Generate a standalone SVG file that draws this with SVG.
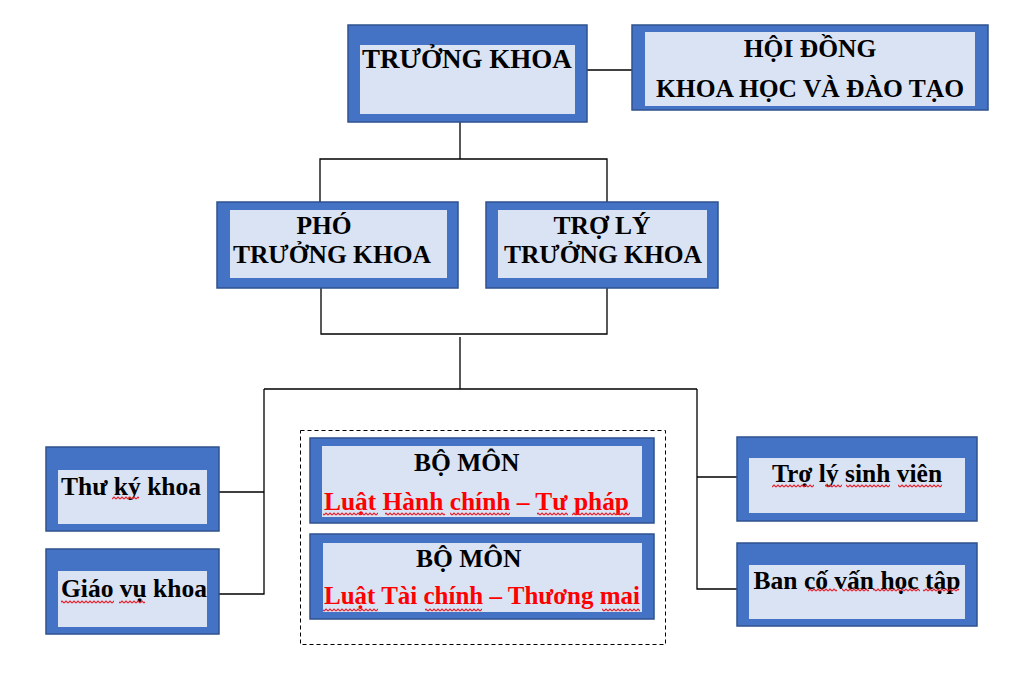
<svg xmlns="http://www.w3.org/2000/svg" width="1028" height="677" viewBox="0 0 1028 677">
<defs>
<pattern id="sq" width="4" height="4" patternUnits="userSpaceOnUse">
<path d="M0 3L2 1L4 3" fill="none" stroke="#E8202A" stroke-width="1.1"/>
</pattern>
</defs>
<style>
.outer{fill:#4472C4;stroke:#2F528F;stroke-width:1.5}
.inner{fill:#DAE3F3}
.t{font-family:"Liberation Serif","Times New Roman",serif;font-weight:bold;font-size:25.5px;fill:#000}
.big{font-size:27px}
.r{fill:#FF0000}
.c{text-anchor:middle}
.ln{stroke:#000;stroke-width:1.3;fill:none}
.sq{fill:url(#sq)}
</style>
<rect width="1028" height="677" fill="#fff"/>
<g id="connectors">
<path class="ln" d="M587 70H632"/>
<path class="ln" d="M460 122V159M320 202V159H607V202"/>
<path class="ln" d="M321 288V334H607V288"/>
<path class="ln" d="M460 337V389M264 389H697"/>
<path class="ln" d="M264 389V594H219M264 492H219"/>
<path class="ln" d="M697 389V589H737M697 477H737"/>
<rect x="300.5" y="430.5" width="365" height="214" fill="none" stroke="#000" stroke-width="1" stroke-dasharray="4,3"/>
</g>
<g id="truong-khoa">
<rect class="outer" x="348" y="25" width="239" height="97"/>
<rect class="inner" x="360" y="45" width="215" height="69"/>
<text class="t big c" x="467" y="68">TRƯỞNG KHOA</text>
</g>
<g id="hoi-dong">
<rect class="outer" x="632" y="25" width="356" height="85"/>
<rect class="inner" x="645" y="32" width="330" height="74"/>
<text class="t c" x="810" y="57">HỘI ĐỒNG</text>
<text class="t c" x="810" y="97">KHOA HỌC VÀ ĐÀO TẠO</text>
</g>
<g id="pho-truong-khoa">
<rect class="outer" x="217" y="202" width="241" height="86"/>
<rect class="inner" x="230" y="210" width="217" height="68"/>
<text class="t c" x="324" y="234">PHÓ</text>
<text class="t c" x="332" y="263">TRƯỞNG KHOA</text>
</g>
<g id="tro-ly-truong-khoa">
<rect class="outer" x="486" y="202" width="232" height="86"/>
<rect class="inner" x="498" y="210" width="209" height="68"/>
<text class="t c" x="602" y="234">TRỢ LÝ</text>
<text class="t c" x="603" y="263">TRƯỞNG KHOA</text>
</g>
<g id="thu-ky-khoa">
<rect class="outer" x="46" y="447" width="173" height="84"/>
<rect class="inner" x="58" y="470" width="149" height="54"/>
<text class="t" x="61" y="495">Thư ký khoa</text>
<rect class="sq" x="112" y="496" width="27" height="4"/>
</g>
<g id="giao-vu-khoa">
<rect class="outer" x="46" y="549" width="173" height="85"/>
<rect class="inner" x="58" y="571" width="149" height="56"/>
<text class="t" x="61" y="597">Giáo vụ khoa</text>
<rect class="sq" x="61" y="600" width="53" height="4"/>
<rect class="sq" x="119" y="600" width="26" height="4"/>
</g>
<g id="bo-mon-1">
<rect class="outer" x="310" y="438" width="344" height="85"/>
<rect class="inner" x="322" y="446" width="320" height="71"/>
<text class="t" x="414" y="471">BỘ MÔN</text>
<text class="t r" x="324" y="510" textLength="305" lengthAdjust="spacingAndGlyphs">Luật Hành chính – Tư pháp</text>
<rect class="sq" x="323" y="512" width="55" height="4"/>
<rect class="sq" x="385" y="512" width="60" height="4"/>
<rect class="sq" x="450" y="512" width="60" height="4"/>
<rect class="sq" x="537" y="512" width="31" height="4"/>
<rect class="sq" x="572" y="512" width="58" height="4"/>
</g>
<g id="bo-mon-2">
<rect class="outer" x="310" y="534" width="344" height="85"/>
<rect class="inner" x="323" y="543" width="319" height="69"/>
<text class="t" x="416" y="567">BỘ MÔN</text>
<text class="t r" x="324" y="604" textLength="316" lengthAdjust="spacingAndGlyphs">Luật Tài chính – Thương mai</text>
<rect class="sq" x="323" y="608" width="55" height="4"/>
<rect class="sq" x="425" y="608" width="57" height="4"/>
<rect class="sq" x="602" y="608" width="38" height="4"/>
</g>
<g id="tro-ly-sinh-vien">
<rect class="outer" x="737" y="437" width="240" height="84"/>
<rect class="inner" x="749" y="458" width="216" height="55"/>
<text class="t c" x="857" y="482">Trợ lý sinh viên</text>
<rect class="sq" x="772" y="484" width="42" height="4"/>
<rect class="sq" x="825" y="484" width="17" height="4"/>
<rect class="sq" x="846" y="484" width="44" height="4"/>
<rect class="sq" x="898" y="484" width="44" height="4"/>
</g>
<g id="ban-co-van">
<rect class="outer" x="737" y="543" width="240" height="83"/>
<rect class="inner" x="749" y="565" width="216" height="54"/>
<text class="t c" x="857" y="589">Ban cố vấn học tập</text>
<rect class="sq" x="808" y="588" width="29" height="4"/>
<rect class="sq" x="842" y="588" width="27" height="4"/>
<rect class="sq" x="873" y="588" width="47" height="4"/>
<rect class="sq" x="923" y="588" width="36" height="4"/>
</g>
</svg>
